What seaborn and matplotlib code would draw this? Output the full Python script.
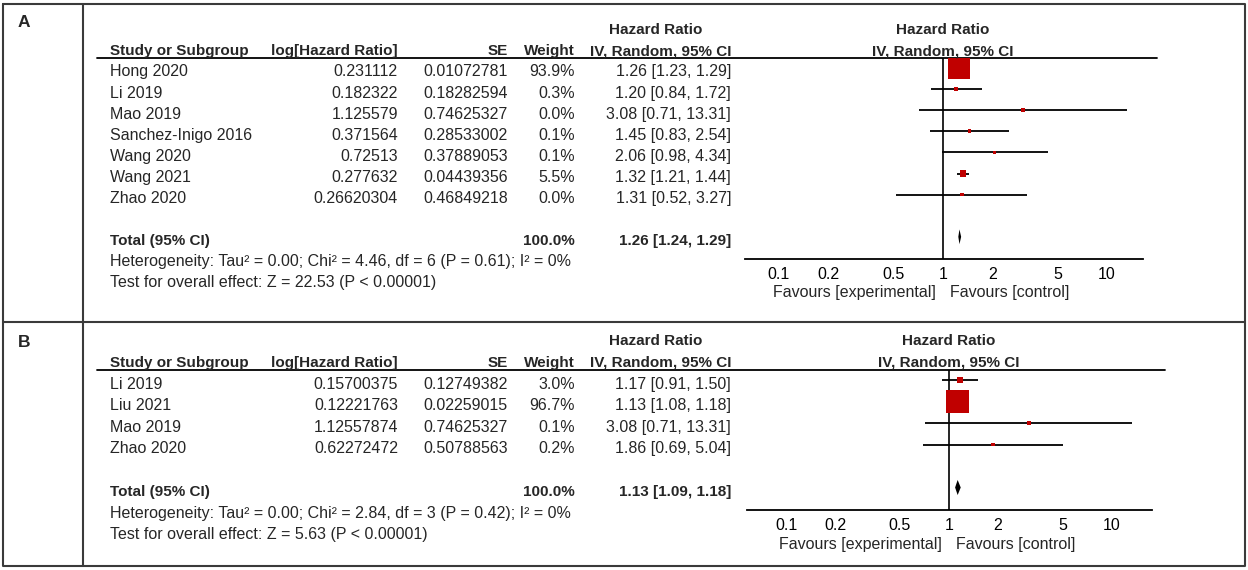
import matplotlib
matplotlib.use("Agg")
import matplotlib.pyplot as plt
import seaborn as sns
import pandas as pd
from matplotlib.lines import Line2D
from matplotlib.ticker import NullLocator

# panel A
a_study = ["Hong 2020", "Li 2019", "Mao 2019", "Sanchez-Inigo 2016", "Wang 2020", "Wang 2021", "Zhao 2020"]
a_loghr = [0.231112, 0.182322, 1.125579, 0.371564, 0.72513, 0.277632, 0.26620304]
a_se = [0.01072781, 0.18282594, 0.74625327, 0.28533002, 0.37889053, 0.04439356, 0.46849218]
a_weight = [93.9, 0.3, 0.0, 0.1, 0.1, 5.5, 0.0]
a_hr = [1.26, 1.20, 3.08, 1.45, 2.06, 1.32, 1.31]
a_lo = [1.23, 0.84, 0.71, 0.83, 0.98, 1.21, 0.52]
a_hi = [1.29, 1.72, 13.31, 2.54, 4.34, 1.44, 3.27]
a_tot = [1.26, 1.24, 1.29]
a_het = "Heterogeneity: Tau\u00b2 = 0.00; Chi\u00b2 = 4.46, df = 6 (P = 0.61); I\u00b2 = 0%"
a_test = "Test for overall effect: Z = 22.53 (P < 0.00001)"

# panel B
b_study = ["Li 2019", "Liu 2021", "Mao 2019", "Zhao 2020"]
b_loghr = [0.15700375, 0.12221763, 1.12557874, 0.62272472]
b_se = [0.12749382, 0.02259015, 0.74625327, 0.50788563]
b_weight = [3.0, 96.7, 0.1, 0.2]
b_hr = [1.17, 1.13, 3.08, 1.86]
b_lo = [0.91, 1.08, 0.71, 0.69]
b_hi = [1.50, 1.18, 13.31, 5.04]
b_tot = [1.13, 1.09, 1.18]
b_het = "Heterogeneity: Tau\u00b2 = 0.00; Chi\u00b2 = 2.84, df = 3 (P = 0.42); I\u00b2 = 0%"
b_test = "Test for overall effect: Z = 5.63 (P < 0.00001)"

ticks = [0.1, 0.2, 0.5, 1, 2, 5, 10]
tick_labels = ["0.1", "0.2", "0.5", "1", "2", "5", "10"]

sns.set_style("white")
plt.rcParams['font.family'] = ['Liberation Sans', 'DejaVu Sans']
FS = 11.5   # regular text
FB = 11     # bold headers
W, H = 1248, 570
fig = plt.figure(figsize=(W / 100, H / 100), dpi=100)


def panel(letter, study, loghr, se, weight, hr, lo, hi, tot, het, test,
          top, bottom, y0, dy, fl, fr, x01, x10, line_end, letter_y):
    n = len(study)
    # table axes: x in pixels, y in rows
    ax = fig.add_axes([0, 1 - bottom / H, 1, (bottom - top) / H])
    ax.set_xlim(0, W)
    ax.set_ylim((bottom - y0) / dy, (top - y0) / dy)
    ax.axis('off')
    off = 0.4
    hb = dict(fontsize=FB, fontweight='bold', va='baseline')
    kw = dict(fontsize=FS, va='baseline')
    ax.text(656, -1.61, "Hazard Ratio", ha='center', **hb)
    ax.text(110, -0.61, "Study or Subgroup", ha='left', **hb)
    ax.text(398, -0.61, "log[Hazard Ratio]", ha='right', **hb)
    ax.text(508, -0.61, "SE", ha='right', **hb)
    ax.text(575, -0.61, "Weight", ha='right', **hb)
    ax.text(731, -0.61, "IV, Random, 95% CI", ha='right', **hb)
    ax.plot([97, line_end], [-0.47, -0.47], color='black', lw=1.3)
    for i in range(n):
        ax.text(110, i + off, study[i], ha='left', **kw)
        ax.text(398, i + off, str(loghr[i]), ha='right', **kw)
        ax.text(508, i + off, str(se[i]), ha='right', **kw)
        ax.text(575, i + off, f"{weight[i]:.1f}%", ha='right', **kw)
        ax.text(731, i + off, f"{hr[i]:.2f} [{lo[i]:.2f}, {hi[i]:.2f}]", ha='right', **kw)
    ax.text(110, n + 1 + off, "Total (95% CI)", ha='left', **hb)
    ax.text(575, n + 1 + off, "100.0%", ha='right', **hb)
    ax.text(731, n + 1 + off, f"{tot[0]:.2f} [{tot[1]:.2f}, {tot[2]:.2f}]", ha='right', **hb)
    ax.text(110, n + 2 + off, het, ha='left', **kw)
    ax.text(110, n + 3 + off, test, ha='left', **kw)

    # forest axes
    ybot = n + 2.05
    ytop = -0.47
    px_bot = y0 + dy * ybot
    px_top = y0 + dy * ytop
    fax = fig.add_axes([fl / W, 1 - px_bot / H, (fr - fl) / W, (px_bot - px_top) / H])
    fax.set_xscale('log')
    ppd = (x10 - x01) / 2
    fax.set_xlim(10 ** (-1 - (x01 - fl) / ppd), 10 ** (1 + (fr - x10) / ppd))
    fax.set_ylim(ybot, ytop)
    df = pd.DataFrame({'hr': hr, 'lo': lo, 'hi': hi, 'weight': weight, 'row': range(n)})
    fax.hlines(df['row'], df['lo'], df['hi'], color='black', lw=1.3, zorder=2)
    sns.scatterplot(data=df, x='hr', y='row', size='weight', sizes=(7, 268), size_norm=(0, 100),
                    marker='s', color='#C00000', linewidth=0, legend=False, ax=fax, zorder=3)
    r = n + 1
    fax.fill([tot[1], tot[0], tot[2], tot[0]], [r, r - 0.35, r, r + 0.35], color='black', lw=0, zorder=3)
    fax.axvline(1, color='black', lw=1.2, zorder=1)
    for s in ['left', 'top', 'right']:
        fax.spines[s].set_visible(False)
    fax.spines['bottom'].set_color('black')
    fax.spines['bottom'].set_linewidth(1.3)
    fax.set_xticks(ticks)
    fax.set_xticklabels(tick_labels)
    fax.xaxis.set_minor_locator(NullLocator())
    fax.set_yticks([])
    fax.tick_params(axis='x', direction='inout', length=9, width=1.3, pad=1.5, labelsize=FS, colors='black')
    fax.set_xlabel('')
    fax.set_ylabel('')
    fax.patch.set_alpha(0)
    fax.text(1, -1.61, "Hazard Ratio", ha='center', va='baseline', fontsize=FB, fontweight='bold', clip_on=False)
    fax.text(1, -0.61, "IV, Random, 95% CI", ha='center', va='baseline', fontsize=FB, fontweight='bold', clip_on=False)
    fax.annotate("Favours [experimental]", xy=(1, 0), xycoords=('data', 'axes fraction'),
                 xytext=(-5, -24.5), textcoords='offset points', ha='right', va='center', fontsize=FS)
    fax.annotate("Favours [control]", xy=(1, 0), xycoords=('data', 'axes fraction'),
                 xytext=(5, -24.5), textcoords='offset points', ha='left', va='center', fontsize=FS)

    fig.text(18 / W, 1 - letter_y / H, letter, fontsize=12.5, fontweight='bold', va='baseline')


panel("A", a_study, a_loghr, a_se, a_weight, a_hr, a_lo, a_hi, a_tot, a_het, a_test,
      top=4, bottom=322, y0=68, dy=21.1, fl=745, fr=1143, x01=779, x10=1107, line_end=1157, letter_y=27)
panel("B", b_study, b_loghr, b_se, b_weight, b_hr, b_lo, b_hi, b_tot, b_het, b_test,
      top=322, bottom=566, y0=380, dy=21.5, fl=747, fr=1152, x01=786, x10=1112, line_end=1165, letter_y=347)

# frame lines
def fline(xs, ys):
    fig.add_artist(Line2D([x / W for x in xs], [1 - y / H for y in ys], transform=fig.transFigure,
                          color='#3a3a3a', lw=1.5))

fline([3, 1245, 1245, 3, 3], [4, 4, 566, 566, 4])
fline([83, 83], [4, 566])
fline([3, 1245], [322, 322])

fig.savefig("out.png", dpi=100)
